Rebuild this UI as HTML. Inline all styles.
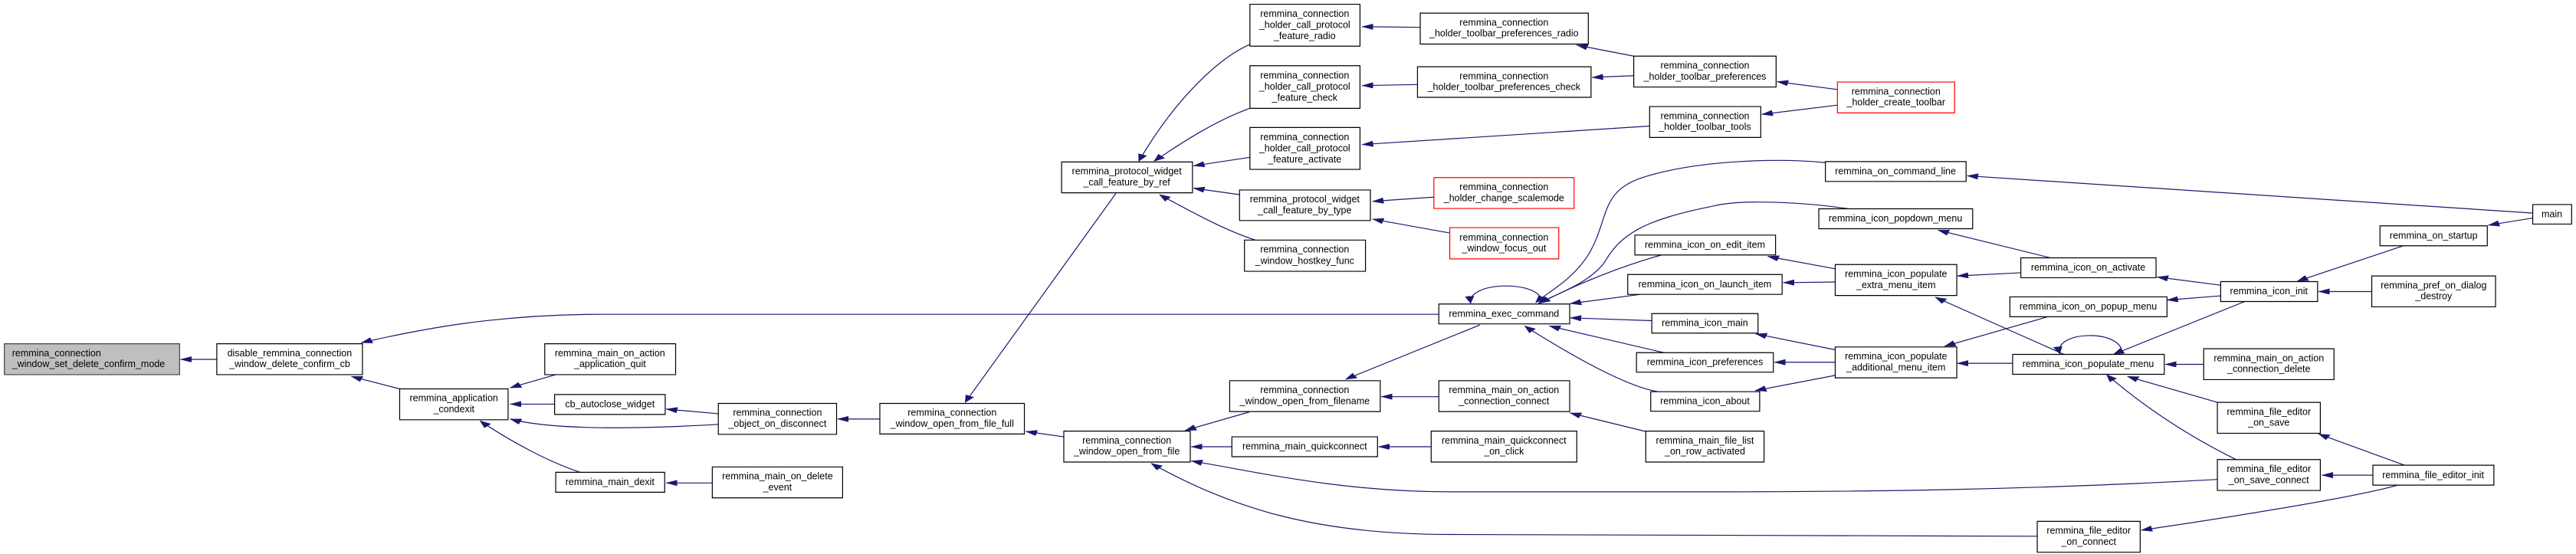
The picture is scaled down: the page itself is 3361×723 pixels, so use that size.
<!DOCTYPE html>
<html><head><meta charset="utf-8"><style>
html,body{margin:0;padding:0;background:#fff;}
svg{display:block;}
text{font-family:"Liberation Sans",sans-serif;font-size:27px;fill:#000;}
rect{vector-effect:non-scaling-stroke;}
path.e{fill:none;stroke:#191970;stroke-width:1.2;vector-effect:non-scaling-stroke;marker-end:url(#ah);}
</style></head><body>
<svg width="3361" height="723" viewBox="0 0 4705 1560" preserveAspectRatio="none" xmlns="http://www.w3.org/2000/svg">
<defs>
<marker id="ah" markerUnits="userSpaceOnUse" markerWidth="22" markerHeight="18" refX="20" refY="8" orient="auto">
<path d="M0,0 L20,8 L0,16 z" fill="#191970" stroke="#191970"/>
</marker>
</defs>
<g fill="none" stroke="#000">
</g>
<!-- edges -->
<path class="e" d="M396,1012 L330,1012"/>
<path class="e" d="M2628,885 L1100,885 C900,885 760,930 660,965"/>
<path class="e" d="M730,1095 L642,1060"/>
<path class="e" d="M1015,1055 L932,1092"/>
<path class="e" d="M1013,1138 L932,1138"/>
<path class="e" d="M1312,1165 L1217,1152"/>
<path class="e" d="M1312,1195 C1200,1205 1020,1215 932,1180"/>
<path class="e" d="M1060,1330 C1000,1300 930,1240 877,1185"/>
<path class="e" d="M1301,1360 L1217,1360"/>
<path class="e" d="M1607,1180 L1530,1180"/>
<path class="e" d="M1943,1230 L1874,1215"/>
<path class="e" d="M2038,545 L1763,1133"/>
<path class="e" d="M2283,125 C2230,160 2150,270 2080,454"/>
<path class="e" d="M2283,305 C2220,340 2160,400 2108,454"/>
<path class="e" d="M2283,443 L2180,467"/>
<path class="e" d="M2264,548 L2180,530"/>
<path class="e" d="M2293,676 C2240,650 2180,600 2118,548"/>
<path class="e" d="M2594,77 L2488,75"/>
<path class="e" d="M2589,238 L2488,241"/>
<path class="e" d="M2984,158 L2880,127"/>
<path class="e" d="M2984,213 L2908,218"/>
<path class="e" d="M3013,355 L2488,407"/>
<path class="e" d="M3356,252 L3246,230"/>
<path class="e" d="M3356,296 L3218,322"/>
<path class="e" d="M2619,555 L2507,567"/>
<path class="e" d="M2648,656 L2507,617"/>
<path class="e" d="M2815,848 C2815,790 2680,790 2686,854"/>
<path class="e" d="M3334,458 C3250,445 3100,450 3000,500 C2920,540 2940,620 2900,720 C2870,790 2830,820 2805,852"/>
<path class="e" d="M3376,588 C3300,570 3180,560 3130,580 C3000,620 2960,660 2930,740 C2900,800 2840,830 2810,854"/>
<path class="e" d="M3035,718 C2960,750 2880,800 2812,854"/>
<path class="e" d="M2996,829 L2868,855"/>
<path class="e" d="M3017,903 L2868,895"/>
<path class="e" d="M3039,993 L2830,918"/>
<path class="e" d="M3028,1103 C2980,1090 2900,1030 2785,918"/>
<path class="e" d="M2703,915 L2458,1068"/>
<path class="e" d="M2628,1117 L2523,1117"/>
<path class="e" d="M3006,1215 L2868,1163"/>
<path class="e" d="M2282,1160 L2165,1212"/>
<path class="e" d="M2250,1258 L2176,1258"/>
<path class="e" d="M2614,1258 L2518,1258"/>
<path class="e" d="M4050,1350 C3700,1380 3400,1385 3100,1385 L2650,1385 C2450,1385 2300,1330 2176,1298"/>
<path class="e" d="M3721,1510 L2650,1505 C2400,1505 2250,1430 2103,1305"/>
<path class="e" d="M3352,757 L3229,722"/>
<path class="e" d="M3352,794 L3257,796"/>
<path class="e" d="M3352,985 L3207,940"/>
<path class="e" d="M3352,1020 L3241,1020"/>
<path class="e" d="M3352,1057 L3206,1100"/>
<path class="e" d="M3745,726 L3540,648"/>
<path class="e" d="M3691,768 L3575,777"/>
<path class="e" d="M3740,892 L3552,975"/>
<path class="e" d="M3770,998 L3535,837"/>
<path class="e" d="M3676,1023 L3575,1023"/>
<path class="e" d="M3876,998 C3880,925 3750,930 3762,996"/>
<path class="e" d="M4056,803 L3940,780"/>
<path class="e" d="M4056,833 L3958,845"/>
<path class="e" d="M4100,849 L3860,998"/>
<path class="e" d="M4025,1026 L3955,1026"/>
<path class="e" d="M4050,1133 L3886,1060"/>
<path class="e" d="M4084,1294 C4000,1230 3920,1150 3848,1055"/>
<path class="e" d="M4392,1310 L4235,1222"/>
<path class="e" d="M4334,1338 L4241,1338"/>
<path class="e" d="M4380,1366 C4300,1400 4100,1450 3911,1493"/>
<path class="e" d="M4332,821 L4235,821"/>
<path class="e" d="M4390,692 L4196,792"/>
<path class="e" d="M4626,614 L4545,634"/>
<path class="e" d="M4626,600 L3593,495"/>

<!-- nodes -->
<g stroke="#000" stroke-width="1.2">
<rect x="8" y="968" width="320" height="87" fill="#bfbfbf" stroke="#404040"/>
<rect x="396" y="968" width="266" height="87" fill="#fff"/>
<rect x="730" y="1095" width="198" height="87" fill="#fff"/>
<rect x="995" y="968" width="239" height="87" fill="#fff"/>
<rect x="1013" y="1111" width="202" height="56" fill="#fff"/>
<rect x="1312" y="1136" width="216" height="87" fill="#fff"/>
<rect x="1015" y="1330" width="199" height="56" fill="#fff"/>
<rect x="1301" y="1315" width="238" height="87" fill="#fff"/>
<rect x="2283" y="12" width="201" height="118" fill="#fff"/>
<rect x="2594" y="37" width="307" height="87" fill="#fff"/>
<rect x="2984" y="158" width="260" height="87" fill="#fff"/>
<rect x="2283" y="185" width="201" height="120" fill="#fff"/>
<rect x="2589" y="188" width="317" height="86" fill="#fff"/>
<rect x="2283" y="359" width="201" height="118" fill="#fff"/>
<rect x="3013" y="300" width="203" height="87" fill="#fff"/>
<rect x="1939" y="456" width="239" height="87" fill="#fff"/>
<rect x="2264" y="535" width="239" height="86" fill="#fff"/>
<rect x="2619" y="500" width="256" height="87" fill="#fff" stroke="#ff0000"/>
<rect x="2648" y="641" width="199" height="88" fill="#fff" stroke="#ff0000"/>
<rect x="2273" y="676" width="221" height="88" fill="#fff"/>
<rect x="2628" y="856" width="239" height="56" fill="#fff"/>
<rect x="1607" y="1136" width="264" height="86" fill="#fff"/>
<rect x="1943" y="1214" width="231" height="87" fill="#fff"/>
<rect x="2246" y="1072" width="275" height="87" fill="#fff"/>
<rect x="2628" y="1072" width="239" height="87" fill="#fff"/>
<rect x="2250" y="1230" width="266" height="56" fill="#fff"/>
<rect x="2614" y="1214" width="266" height="87" fill="#fff"/>
<rect x="2986" y="662" width="257" height="56" fill="#fff"/>
<rect x="2973" y="773" width="282" height="56" fill="#fff"/>
<rect x="3017" y="883" width="194" height="55" fill="#fff"/>
<rect x="2989" y="993" width="250" height="55" fill="#fff"/>
<rect x="3015" y="1103" width="199" height="55" fill="#fff"/>
<rect x="3006" y="1214" width="216" height="87" fill="#fff"/>
<rect x="3356" y="231" width="214" height="87" fill="#fff" stroke="#ff0000"/>
<rect x="3334" y="455" width="257" height="56" fill="#fff"/>
<rect x="3322" y="588" width="281" height="56" fill="#fff"/>
<rect x="3352" y="745" width="222" height="87" fill="#fff"/>
<rect x="3691" y="726" width="247" height="56" fill="#fff"/>
<rect x="3671" y="836" width="287" height="56" fill="#fff"/>
<rect x="3352" y="977" width="222" height="87" fill="#fff"/>
<rect x="3676" y="998" width="277" height="56" fill="#fff"/>
<rect x="4056" y="793" width="177" height="56" fill="#fff"/>
<rect x="4332" y="777" width="226" height="87" fill="#fff"/>
<rect x="4347" y="636" width="196" height="56" fill="#fff"/>
<rect x="4626" y="576" width="71" height="55" fill="#fff"/>
<rect x="4025" y="982" width="238" height="87" fill="#fff"/>
<rect x="4050" y="1133" width="188" height="87" fill="#fff"/>
<rect x="4050" y="1294" width="188" height="87" fill="#fff"/>
<rect x="4334" y="1310" width="221" height="56" fill="#fff"/>
<rect x="3721" y="1468" width="188" height="87" fill="#fff"/>
</g>

<!-- labels (centered at cx, scaled horizontally) -->
<g text-anchor="start">
<g transform="translate(22,0) scale(0.649,1)"><text x="0" y="1003">remmina_connection</text><text x="0" y="1034">_window_set_delete_confirm_mode</text></g>
</g>
<g text-anchor="middle">
<g transform="translate(529,0) scale(0.649,1)"><text y="1003">disable_remmina_connection</text><text y="1034">_window_delete_confirm_cb</text></g>
<g transform="translate(829,0) scale(0.649,1)"><text y="1130">remmina_application</text><text y="1161">_condexit</text></g>
<g transform="translate(1114,0) scale(0.649,1)"><text y="1003">remmina_main_on_action</text><text y="1034">_application_quit</text></g>
<g transform="translate(1114,0) scale(0.649,1)"><text y="1147">cb_autoclose_widget</text></g>
<g transform="translate(1420,0) scale(0.649,1)"><text y="1171">remmina_connection</text><text y="1202">_object_on_disconnect</text></g>
<g transform="translate(1114,0) scale(0.649,1)"><text y="1366">remmina_main_dexit</text></g>
<g transform="translate(1420,0) scale(0.649,1)"><text y="1350">remmina_main_on_delete</text><text y="1381">_event</text></g>
<g transform="translate(2383,0) scale(0.649,1)"><text y="48">remmina_connection</text><text y="79">_holder_call_protocol</text><text y="110">_feature_radio</text></g>
<g transform="translate(2747,0) scale(0.649,1)"><text y="72">remmina_connection</text><text y="103">_holder_toolbar_preferences_radio</text></g>
<g transform="translate(3114,0) scale(0.649,1)"><text y="193">remmina_connection</text><text y="224">_holder_toolbar_preferences</text></g>
<g transform="translate(2383,0) scale(0.649,1)"><text y="221">remmina_connection</text><text y="253">_holder_call_protocol</text><text y="284">_feature_check</text></g>
<g transform="translate(2747,0) scale(0.649,1)"><text y="223">remmina_connection</text><text y="254">_holder_toolbar_preferences_check</text></g>
<g transform="translate(2383,0) scale(0.649,1)"><text y="395">remmina_connection</text><text y="426">_holder_call_protocol</text><text y="457">_feature_activate</text></g>
<g transform="translate(3114,0) scale(0.649,1)"><text y="335">remmina_connection</text><text y="366">_holder_toolbar_tools</text></g>
<g transform="translate(2058,0) scale(0.649,1)"><text y="491">remmina_protocol_widget</text><text y="522">_call_feature_by_ref</text></g>
<g transform="translate(2383,0) scale(0.649,1)"><text y="570">remmina_protocol_widget</text><text y="601">_call_feature_by_type</text></g>
<g transform="translate(2747,0) scale(0.649,1)"><text y="535">remmina_connection</text><text y="566">_holder_change_scalemode</text></g>
<g transform="translate(2747,0) scale(0.649,1)"><text y="677">remmina_connection</text><text y="708">_window_focus_out</text></g>
<g transform="translate(2383,0) scale(0.649,1)"><text y="711">remmina_connection</text><text y="743">_window_hostkey_func</text></g>
<g transform="translate(2747,0) scale(0.649,1)"><text y="892">remmina_exec_command</text></g>
<g transform="translate(1739,0) scale(0.649,1)"><text y="1171">remmina_connection</text><text y="1202">_window_open_from_file_full</text></g>
<g transform="translate(2058,0) scale(0.649,1)"><text y="1249">remmina_connection</text><text y="1280">_window_open_from_file</text></g>
<g transform="translate(2383,0) scale(0.649,1)"><text y="1107">remmina_connection</text><text y="1138">_window_open_from_filename</text></g>
<g transform="translate(2747,0) scale(0.649,1)"><text y="1107">remmina_main_on_action</text><text y="1138">_connection_connect</text></g>
<g transform="translate(2383,0) scale(0.649,1)"><text y="1266">remmina_main_quickconnect</text></g>
<g transform="translate(2747,0) scale(0.649,1)"><text y="1249">remmina_main_quickconnect</text><text y="1280">_on_click</text></g>
<g transform="translate(3114,0) scale(0.649,1)"><text y="698">remmina_icon_on_edit_item</text></g>
<g transform="translate(3114,0) scale(0.649,1)"><text y="809">remmina_icon_on_launch_item</text></g>
<g transform="translate(3114,0) scale(0.649,1)"><text y="918">remmina_icon_main</text></g>
<g transform="translate(3114,0) scale(0.649,1)"><text y="1028">remmina_icon_preferences</text></g>
<g transform="translate(3114,0) scale(0.649,1)"><text y="1138">remmina_icon_about</text></g>
<g transform="translate(3114,0) scale(0.649,1)"><text y="1249">remmina_main_file_list</text><text y="1280">_on_row_activated</text></g>
<g transform="translate(3463,0) scale(0.649,1)"><text y="266">remmina_connection</text><text y="297">_holder_create_toolbar</text></g>
<g transform="translate(3462,0) scale(0.649,1)"><text y="491">remmina_on_command_line</text></g>
<g transform="translate(3462,0) scale(0.649,1)"><text y="624">remmina_icon_popdown_menu</text></g>
<g transform="translate(3463,0) scale(0.649,1)"><text y="780">remmina_icon_populate</text><text y="811">_extra_menu_item</text></g>
<g transform="translate(3814,0) scale(0.649,1)"><text y="762">remmina_icon_on_activate</text></g>
<g transform="translate(3814,0) scale(0.649,1)"><text y="872">remmina_icon_on_popup_menu</text></g>
<g transform="translate(3463,0) scale(0.649,1)"><text y="1012">remmina_icon_populate</text><text y="1043">_additional_menu_item</text></g>
<g transform="translate(3814,0) scale(0.649,1)"><text y="1034">remmina_icon_populate_menu</text></g>
<g transform="translate(4144,0) scale(0.649,1)"><text y="829">remmina_icon_init</text></g>
<g transform="translate(4445,0) scale(0.649,1)"><text y="812">remmina_pref_on_dialog</text><text y="843">_destroy</text></g>
<g transform="translate(4445,0) scale(0.649,1)"><text y="672">remmina_on_startup</text></g>
<g transform="translate(4661,0) scale(0.649,1)"><text y="612">main</text></g>
<g transform="translate(4144,0) scale(0.649,1)"><text y="1017">remmina_main_on_action</text><text y="1048">_connection_delete</text></g>
<g transform="translate(4144,0) scale(0.649,1)"><text y="1168">remmina_file_editor</text><text y="1199">_on_save</text></g>
<g transform="translate(4144,0) scale(0.649,1)"><text y="1329">remmina_file_editor</text><text y="1360">_on_save_connect</text></g>
<g transform="translate(4444,0) scale(0.649,1)"><text y="1346">remmina_file_editor_init</text></g>
<g transform="translate(3815,0) scale(0.649,1)"><text y="1503">remmina_file_editor</text><text y="1534">_on_connect</text></g>
</g>
</svg>
</body></html>
